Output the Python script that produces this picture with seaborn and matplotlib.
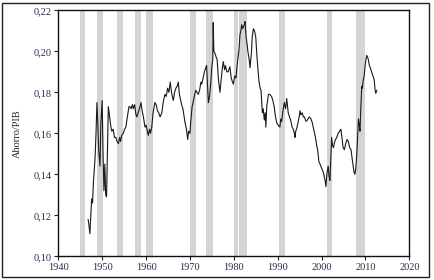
import matplotlib
matplotlib.use("Agg")
import matplotlib.pyplot as plt
import matplotlib.ticker as mticker
from matplotlib.patches import Rectangle
import seaborn as sns
import pandas as pd

# ---- data ----
years = [1946.8, 1947.0, 1947.2, 1947.4, 1947.6, 1947.8, 1948.0, 1948.2, 1948.4, 1948.6,
         1948.8, 1949.0, 1949.2, 1949.5, 1949.7, 1950.0, 1950.2, 1950.4, 1950.6, 1950.8,
         1951.0, 1951.2, 1951.4, 1951.7, 1952.0, 1952.2, 1952.5, 1952.8, 1953.1, 1953.4,
         1953.7, 1954.0, 1954.2, 1954.45, 1954.8, 1955.1, 1955.4, 1955.6, 1955.9, 1956.1,
         1956.3, 1956.6, 1956.9, 1957.1, 1957.4, 1957.7, 1957.9, 1958.2, 1958.5, 1958.85,
         1959.1, 1959.4, 1959.76, 1960.0, 1960.3, 1960.5, 1960.8, 1961.0, 1961.3, 1961.6,
         1962.0, 1962.3, 1962.6, 1962.9, 1963.2, 1963.6, 1963.9, 1964.3, 1964.6, 1964.9,
         1965.2, 1965.5, 1965.8, 1966.0, 1966.2, 1966.5, 1966.8, 1967.1, 1967.35, 1967.6,
         1967.9, 1968.1, 1968.4, 1968.7, 1968.9, 1969.2, 1969.5, 1969.7, 1970.0, 1970.2,
         1970.5, 1970.8, 1971.0, 1971.3, 1971.6, 1971.9, 1972.2, 1972.5, 1972.7, 1973.0,
         1973.3, 1973.6, 1973.8, 1974.0, 1974.2, 1974.4, 1974.6, 1974.8, 1974.96, 1975.2,
         1975.3, 1975.45, 1975.7, 1976.0, 1976.2, 1976.5, 1976.85, 1977.1, 1977.4, 1977.6,
         1977.9, 1978.1, 1978.4, 1978.7, 1979.1, 1979.4, 1979.7, 1979.9, 1980.2, 1980.5,
         1980.7, 1980.9, 1981.2, 1981.4, 1981.6, 1981.8, 1982.0, 1982.2, 1982.4, 1982.55,
         1982.8, 1983.0, 1983.2, 1983.5, 1983.7, 1984.0, 1984.2, 1984.45, 1984.7, 1985.0,
         1985.2, 1985.45, 1985.75, 1986.0, 1986.2, 1986.5, 1986.7, 1986.95, 1987.15, 1987.3,
         1987.5, 1987.7, 1987.9, 1988.2, 1988.6, 1988.9, 1989.2, 1989.5, 1989.8, 1990.1,
         1990.5, 1990.7, 1990.9, 1991.2, 1991.5, 1991.8, 1992.05, 1992.2, 1992.4, 1992.7,
         1993.0, 1993.3, 1993.55, 1993.8, 1993.95, 1994.1, 1994.3, 1994.6, 1994.9, 1995.1,
         1995.3, 1995.6, 1995.85, 1996.1, 1996.4, 1996.6, 1996.9, 1997.2, 1997.6, 1997.9,
         1998.1, 1998.4, 1998.6, 1998.9, 1999.1, 1999.4, 1999.65, 2000.0, 2000.4, 2000.6,
         2000.8, 2001.0, 2001.2, 2001.5, 2001.7, 2001.9, 2002.1, 2002.3, 2002.5, 2002.7,
         2003.0, 2003.2, 2003.45, 2003.8, 2004.1, 2004.4, 2004.7, 2004.9, 2005.2, 2005.5,
         2005.8, 2006.1, 2006.4, 2006.7, 2007.0, 2007.2, 2007.4, 2007.6, 2007.8, 2008.0,
         2008.2, 2008.4, 2008.6, 2008.75, 2008.9, 2009.15, 2009.3, 2009.5, 2009.7, 2009.9,
         2010.1, 2010.3, 2010.5, 2010.65, 2010.9, 2011.1, 2011.4, 2011.7, 2012.0, 2012.2,
         2012.35, 2012.6]
ahorro = [0.118, 0.115, 0.111, 0.120, 0.128, 0.126, 0.136, 0.142, 0.149, 0.160,
          0.175, 0.165, 0.152, 0.144, 0.165, 0.176, 0.150, 0.132, 0.145, 0.130,
          0.129, 0.150, 0.173, 0.168, 0.163, 0.161, 0.162, 0.158, 0.158, 0.156,
          0.155, 0.158, 0.156, 0.159, 0.160, 0.162, 0.163, 0.166, 0.170, 0.173,
          0.173, 0.172, 0.174, 0.172, 0.174, 0.169, 0.168, 0.170, 0.172, 0.175,
          0.171, 0.168, 0.163, 0.164, 0.161, 0.159, 0.162, 0.160, 0.163, 0.170,
          0.175, 0.174, 0.171, 0.170, 0.168, 0.170, 0.175, 0.179, 0.178, 0.182,
          0.180, 0.185, 0.180, 0.178, 0.176, 0.180, 0.182, 0.183, 0.185, 0.179,
          0.176, 0.174, 0.172, 0.168, 0.165, 0.162, 0.157, 0.161, 0.160, 0.166,
          0.173, 0.176, 0.178, 0.181, 0.180, 0.179, 0.181, 0.185, 0.184, 0.187,
          0.190, 0.192, 0.193, 0.184, 0.175, 0.177, 0.181, 0.186, 0.192, 0.196,
          0.214, 0.200, 0.199, 0.197, 0.196, 0.186, 0.180, 0.186, 0.192, 0.195,
          0.191, 0.193, 0.190, 0.190, 0.1925, 0.187, 0.185, 0.184, 0.188, 0.187,
          0.192, 0.196, 0.201, 0.208, 0.210, 0.213, 0.211, 0.212, 0.213, 0.2145,
          0.207, 0.204, 0.200, 0.196, 0.192, 0.199, 0.207, 0.211, 0.210, 0.207,
          0.200, 0.1925, 0.185, 0.182, 0.181, 0.170, 0.172, 0.1665, 0.170, 0.163,
          0.173, 0.176, 0.179, 0.179, 0.178, 0.176, 0.173, 0.168, 0.165, 0.164,
          0.163, 0.167, 0.1657, 0.171, 0.175, 0.172, 0.177, 0.174, 0.170, 0.168,
          0.166, 0.163, 0.162, 0.160, 0.158, 0.161, 0.162, 0.165, 0.168, 0.171,
          0.169, 0.170, 0.168, 0.168, 0.166, 0.166, 0.167, 0.168, 0.167, 0.165,
          0.163, 0.160, 0.158, 0.154, 0.152, 0.146, 0.145, 0.143, 0.141, 0.139,
          0.137, 0.134, 0.140, 0.144, 0.139, 0.137, 0.148, 0.158, 0.154, 0.153,
          0.156, 0.157, 0.158, 0.160, 0.161, 0.162, 0.157, 0.153, 0.152, 0.155,
          0.157, 0.156, 0.153, 0.152, 0.147, 0.144, 0.141, 0.140, 0.143, 0.149,
          0.158, 0.167, 0.164, 0.161, 0.170, 0.183, 0.182, 0.186, 0.188, 0.1925,
          0.196, 0.198, 0.197, 0.196, 0.193, 0.192, 0.190, 0.188, 0.186, 0.181,
          0.1795, 0.181]

rec_start = [1944.9, 1948.9, 1953.3, 1957.5, 1960.0, 1970.0, 1973.6, 1980.0, 1981.2, 1990.3, 2001.2, 2007.8]
rec_end = [1946.1, 1950.2, 1954.7, 1958.8, 1961.5, 1971.3, 1975.3, 1981.0, 1983.1, 1991.6, 2002.3, 2009.8]

x_ticks = [1940, 1950, 1960, 1970, 1980, 1990, 2000, 2010, 2020]
y_ticks = [0.10, 0.12, 0.14, 0.16, 0.18, 0.20, 0.22]
y_label = "Ahorro/PIB"

# ---- plot ----
sns.set_style("ticks")
plt.rcParams["font.family"] = ["Liberation Serif", "DejaVu Serif"]

fig = plt.figure(figsize=(4.35, 2.8), dpi=100)
ax = fig.add_axes([0.134, 0.0846, 0.807, 0.8786])

for s, e in zip(rec_start, rec_end):
    ax.axvspan(s, e, color="#d4d4d4", lw=0, zorder=0)

df = pd.DataFrame({"year": years, "ahorro": ahorro})
sns.lineplot(data=df, x="year", y="ahorro", ax=ax, color="#1a1a1a", lw=0.8,
             estimator=None, sort=False, zorder=3)

ax.set_xlim(1940, 2020)
ax.set_ylim(0.10, 0.22)
ax.set_xticks(x_ticks)
ax.set_yticks(y_ticks)
ax.yaxis.set_major_formatter(mticker.FuncFormatter(lambda v, p: f"{v:.2f}".replace(".", ",")))
ax.set_xlabel("")
ax.set_ylabel(y_label, fontsize=7.5, color="#222233", labelpad=8)
ax.tick_params(axis="both", labelsize=7.5, labelcolor="#2b2b50", length=3, width=0.8,
               direction="out", color="#222222", pad=2)
for sp in ax.spines.values():
    sp.set_visible(True)
    sp.set_color("#111111")
    sp.set_linewidth(1.0)

# outer frame of the figure
fig.patches.append(Rectangle((2 / 435, 3 / 280), 427 / 435, 274 / 280,
                             transform=fig.transFigure, fill=False,
                             edgecolor="#222222", lw=1.0))

fig.savefig("out.png", dpi=100)
